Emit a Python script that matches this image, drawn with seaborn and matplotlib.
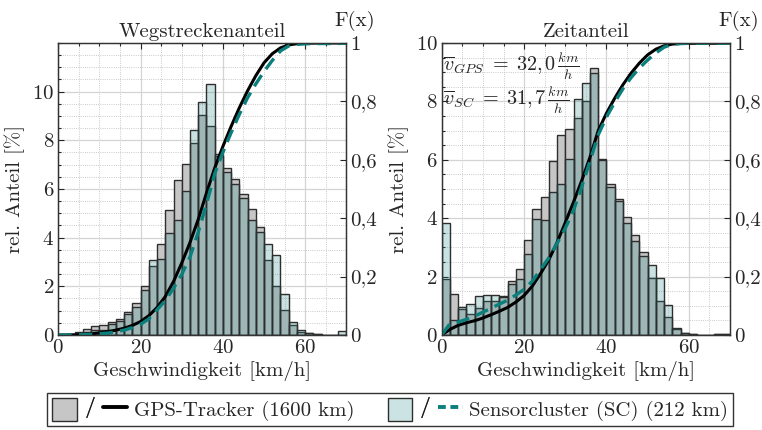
import numpy as np
import pandas as pd
import matplotlib
matplotlib.use("Agg")
import matplotlib.pyplot as plt
import seaborn as sns
from matplotlib.patches import Patch
from matplotlib.lines import Line2D
from matplotlib.legend_handler import HandlerTuple
from matplotlib.ticker import MultipleLocator, FuncFormatter

# speed bins (km/h), width 2
bin_edges = np.arange(0, 72, 2)
bin_centers = bin_edges[:-1] + 1

# Wegstreckenanteil [%]
dist_gps = [0, 0.03, 0.12, 0.23, 0.35, 0.41, 0.52, 0.66, 0.96, 1.33,
            2.00, 2.82, 3.75, 5.15, 6.36, 7.02, 7.90, 9.05, 8.57, 7.45,
            6.87, 6.41, 5.81, 5.18, 4.44, 3.10, 2.00, 1.03, 0.41, 0.14,
            0.07, 0.03, 0, 0, 0]
dist_sc = [0, 0.02, 0.08, 0.12, 0.20, 0.20, 0.44, 0.58, 0.85, 1.14,
           1.84, 3.09, 3.12, 4.19, 4.71, 5.91, 8.42, 9.57, 10.30, 7.35,
           6.69, 6.22, 5.63, 4.71, 4.23, 3.74, 3.27, 1.68, 0.52, 0.20,
           0.07, 0.03, 0, 0, 0.18]

# Zeitanteil [%]
time_gps = [1.92, 1.40, 0.88, 0.72, 0.92, 1.15, 1.18, 1.32, 1.84, 2.26,
            3.25, 4.31, 4.74, 5.95, 6.86, 7.07, 7.44, 8.01, 9.14, 6.01,
            5.17, 4.65, 4.05, 3.41, 2.84, 1.95, 1.15, 0.61, 0.20, 0.06,
            0.03, 0, 0, 0.03, 0.05]
time_sc = [3.85, 0.52, 0.95, 1.07, 1.34, 1.38, 1.38, 1.30, 1.76, 1.92,
           2.79, 3.97, 3.94, 4.91, 5.17, 6.03, 8.08, 8.62, 8.97, 5.98,
           5.06, 4.60, 3.82, 3.22, 2.70, 2.41, 1.95, 1.01, 0.23, 0.08,
           0.03, 0, 0, 0.03, 0.05]

titles = ["Wegstreckenanteil", "Zeitanteil"]
ylims = [12, 10]
label_gps = "GPS-Tracker (1600 km)"
label_sc = "Sensorcluster (SC) (212 km)"
mean_text = [r"$\overline{v}_{GPS}\;=\;32{,}\,0\,\frac{km}{h}$",
             r"$\overline{v}_{SC}\;=\;31{,}\,7\,\frac{km}{h}$"]

sns.set_style("white")
plt.rcParams['font.family'] = ['cmr10', 'DejaVu Serif']
plt.rcParams['mathtext.fontset'] = 'cm'
plt.rcParams['axes.unicode_minus'] = False
plt.rcParams['axes.formatter.use_mathtext'] = True

fs = 15
grey_face = '#c6c6c6'
sc_face = (0.13, 0.52, 0.52, 0.24)
edge = '#2e2e2e'
teal = '#0a7f7c'

fig = plt.figure(figsize=(7.62, 4.30), dpi=100)
ax_l = fig.add_axes([0.0765, 0.221, 0.378, 0.679])
ax_r = fig.add_axes([0.5797, 0.221, 0.3783, 0.679])

comma = FuncFormatter(lambda v, p: ('%g' % round(v, 2)).replace('.', ','))

for ax, gps, sc, title, ymax in [(ax_l, dist_gps, dist_sc, titles[0], ylims[0]),
                                 (ax_r, time_gps, time_sc, titles[1], ylims[1])]:
    ax.set_axisbelow(True)
    df = pd.DataFrame({'speed': bin_centers, 'gps': gps, 'sc': sc})
    sns.histplot(data=df, x='speed', weights='gps', binwidth=2, binrange=(0, 70),
                 ax=ax, color=grey_face, edgecolor=edge, linewidth=1.0, alpha=1)
    sns.histplot(data=df, x='speed', weights='sc', binwidth=2, binrange=(0, 70),
                 ax=ax, color=sc_face[:3], edgecolor=edge, linewidth=1.0)
    for p in ax.containers[-1]:
        p.set_alpha(None)
        p.set_facecolor(sc_face)
        p.set_edgecolor(edge)

    ax.set_xlim(0, 70)
    ax.set_ylim(0, ymax)
    ax.xaxis.set_major_locator(MultipleLocator(20))
    ax.xaxis.set_minor_locator(MultipleLocator(5))
    ax.set_yticks(np.arange(0, 11, 2))
    ax.yaxis.set_minor_locator(MultipleLocator(0.5))
    ax.grid(which='major', color='#d4d4d4', linewidth=0.9, linestyle='-')
    ax.grid(which='minor', color='#b8b8b8', linewidth=0.6, linestyle=':')
    ax.tick_params(which='both', direction='in', top=True, right=False,
                   labelsize=fs, length=4, width=0.8, pad=3)
    ax.tick_params(which='minor', length=2)
    ax.tick_params(axis='y', which='minor', left=False)
    ax.set_xlabel("Geschwindigkeit [km/h]", fontsize=fs, labelpad=3)
    ax.set_ylabel("rel. Anteil [%]", fontsize=fs, labelpad=5)
    ax.set_title(title, fontsize=fs, pad=4)
    for s in ax.spines.values():
        s.set_color('#333333')
        s.set_linewidth(0.9)

    # cumulative distribution on the right axis
    tw = ax.twinx()
    cdf = pd.DataFrame({'edge': bin_edges,
                        'gps': np.concatenate([[0], np.cumsum(gps) / np.sum(gps)]),
                        'sc': np.concatenate([[0], np.cumsum(sc) / np.sum(sc)])})
    sns.lineplot(data=cdf, x='edge', y='gps', ax=tw, color='black', linewidth=2.2)
    sns.lineplot(data=cdf, x='edge', y='sc', ax=tw, color=teal, linewidth=2.4,
                 linestyle=(0, (4, 2.2)))
    tw.set_ylim(0, 1)
    tw.set_xlim(0, 70)
    tw.set_yticks(np.arange(0, 1.01, 0.2))
    tw.yaxis.set_major_formatter(comma)
    tw.tick_params(direction='in', labelsize=fs, length=4, width=0.8, pad=3)
    tw.set_ylabel("")
    tw.set_xlabel("")
    tw.text(1.03, 1.04, "F(x)", transform=tw.transAxes, fontsize=fs,
            ha='center', va='bottom')
    for s in tw.spines.values():
        s.set_color('#333333')
        s.set_linewidth(0.9)

ax_r.text(0.3, 9.2, mean_text[0], fontsize=14.5, ha='left', va='center')
ax_r.text(0.3, 8.05, mean_text[1], fontsize=14.5, ha='left', va='center')

slash = Line2D([], [], linestyle='none', marker='$/$', color='black',
               markersize=15, markeredgewidth=0.3)
h_gps = (Patch(facecolor=grey_face, edgecolor=edge), slash,
         Line2D([], [], color='black', linewidth=2.8))
h_sc = (Patch(facecolor=(0.80, 0.89, 0.89), edgecolor=edge), slash,
        Line2D([], [], color=teal, linewidth=2.8, linestyle=(0, (2, 1.2))))
leg = fig.legend([h_gps, h_sc], [label_gps, label_sc], ncol=2,
                 loc='center', bbox_to_anchor=(0.512, 0.0475),
                 handler_map={tuple: HandlerTuple(ndivide=None, pad=0.05)},
                 handlelength=3.6, handleheight=1.3, fontsize=fs,
                 frameon=True, fancybox=False, edgecolor='black',
                 columnspacing=1.6, handletextpad=0.3, borderpad=0.25,
                 borderaxespad=0)
leg.get_frame().set_linewidth(1.0)

fig.savefig("out.png", dpi=100)
